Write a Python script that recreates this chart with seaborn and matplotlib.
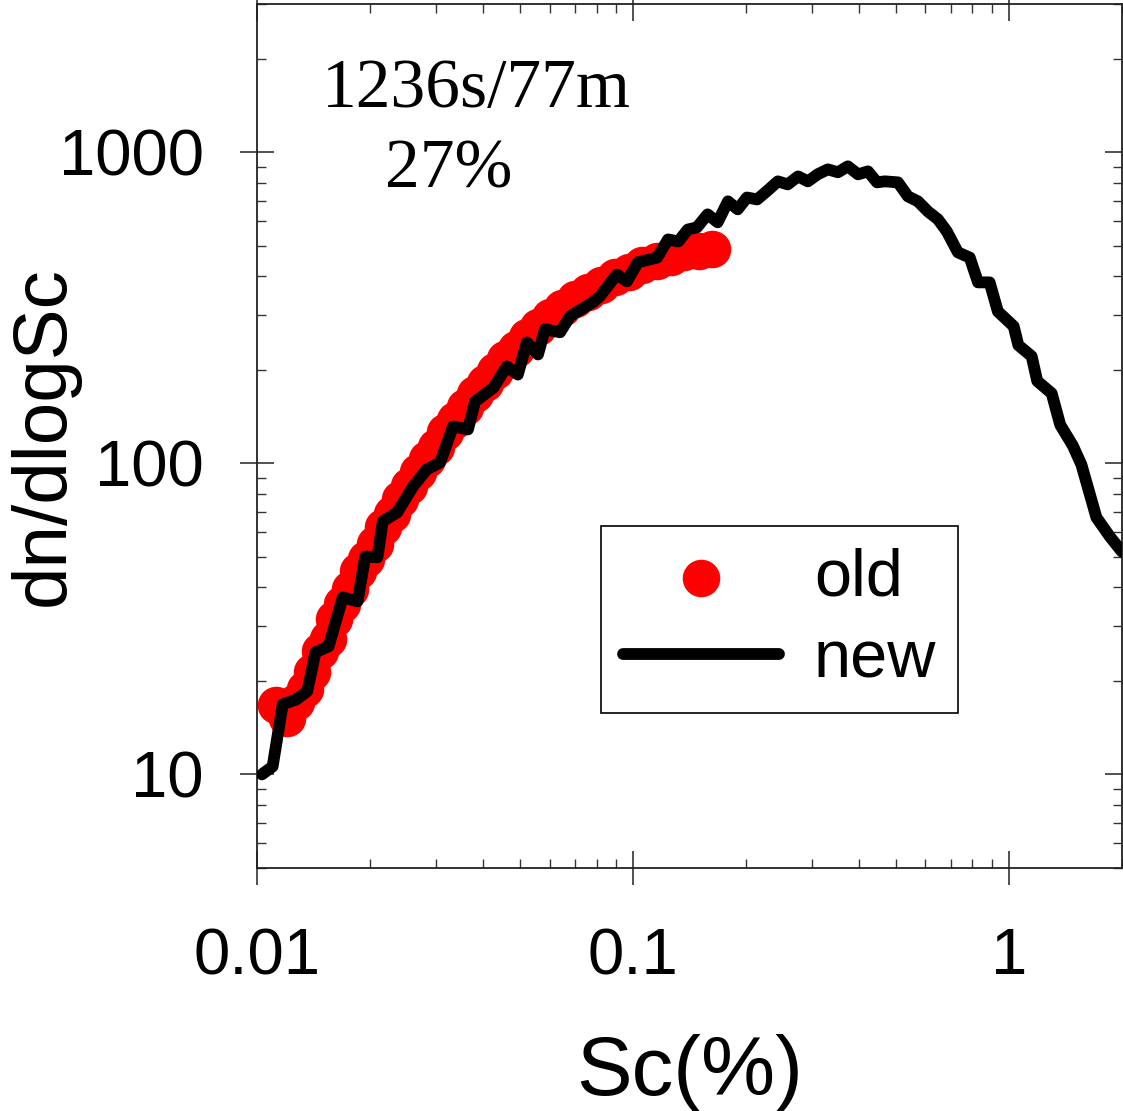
import numpy as np
import pandas as pd
import matplotlib
matplotlib.use("Agg")
import matplotlib.pyplot as plt
import matplotlib.ticker as mticker
import seaborn as sns

# "old" distribution (red dots), Sc in %
old_sc = [0.0112, 0.0120, 0.0127, 0.0134, 0.0140, 0.0147, 0.0154, 0.0160, 0.0168, 0.0177,
          0.0186, 0.0195, 0.0206, 0.0216, 0.0229, 0.0240, 0.0254, 0.0268, 0.0283, 0.0299,
          0.0316, 0.0336, 0.0358, 0.0380, 0.0404, 0.0429, 0.0457, 0.0489, 0.0522, 0.0559,
          0.0601, 0.0647, 0.0701, 0.0759, 0.0822, 0.0895, 0.0975, 0.106, 0.116, 0.126,
          0.137, 0.150, 0.162]
old_dn = [16.7, 15.2, 17.1, 18.8, 21.4, 24.9, 27.2, 31.5, 35.2, 39.4,
          45.0, 49.1, 54.9, 62.3, 68.5, 76.6, 84.3, 93.5, 103, 113,
          126, 138, 152, 167, 182, 198, 216, 234, 254, 274,
          295, 317, 337, 357, 376, 397, 414, 436, 446, 460,
          477, 481, 488]

# "new" distribution (black line)
new_sc = [0.0103, 0.0110, 0.0117, 0.0127, 0.0136, 0.0143, 0.0155, 0.0169, 0.0185, 0.0194,
          0.0209, 0.0216, 0.0236, 0.0260, 0.0283, 0.0307, 0.0332, 0.0364, 0.0380, 0.0425,
          0.0462, 0.0494, 0.0522, 0.0559, 0.0583, 0.0640, 0.0680, 0.0783, 0.0817, 0.0906,
          0.0964, 0.103, 0.116, 0.124, 0.132, 0.140, 0.148, 0.158, 0.168, 0.179,
          0.190, 0.201, 0.214, 0.227, 0.243, 0.258, 0.275, 0.292, 0.310, 0.330,
          0.351, 0.373, 0.397, 0.422, 0.446, 0.468, 0.507, 0.539, 0.573, 0.609,
          0.648, 0.684, 0.732, 0.787, 0.828, 0.889, 0.935, 1.03, 1.06, 1.15,
          1.19, 1.30, 1.37, 1.48, 1.56, 1.71, 1.86, 2.0]
new_dn = [10.0, 10.6, 16.8, 17.4, 18.5, 24.7, 25.8, 37.1, 36.0, 50.2,
          49.9, 65.1, 69.6, 84.3, 95.7, 100.7, 131.5, 128.6, 158, 175,
          205, 193, 245, 224, 270, 264, 297, 330, 345, 405,
          385, 443, 459, 525, 517, 565, 574, 632, 596, 696,
          656, 716, 706, 750, 807, 789, 837, 807, 850, 882,
          863, 902, 850, 869, 801, 807, 801, 722, 696, 646,
          609, 557, 477, 459, 382, 382, 308, 276, 240, 221,
          184, 168, 133, 114, 99, 67, 58, 52]

annot_lines = ["1236s/77m", "27%"]

sns.set_style("ticks")
plt.rcParams["font.family"] = ["Liberation Sans", "DejaVu Sans"]
plt.rcParams["text.color"] = "black"
plt.rcParams["axes.labelcolor"] = "black"
plt.rcParams["xtick.color"] = "black"
plt.rcParams["ytick.color"] = "black"

old_df = pd.DataFrame({"sc": old_sc, "dn": old_dn})
new_df = pd.DataFrame({"sc": new_sc, "dn": new_dn})

fig = plt.figure(figsize=(11.23, 11.11), dpi=100)
ax = fig.add_axes([0.2289, 0.2187, 0.7702, 0.7777])
ax.set_xscale("log")
ax.set_yscale("log")

sns.scatterplot(data=old_df, x="sc", y="dn", ax=ax, color="red", s=730,
                linewidth=0, label="old", zorder=2)
sns.lineplot(data=new_df, x="sc", y="dn", ax=ax, color="black", lw=8.5,
             sort=False, estimator=None, label="new", zorder=3)

ax.set_xlim(0.01, 2)
ax.set_ylim(5, 3000)

ax.xaxis.set_major_locator(mticker.FixedLocator([0.01, 0.1, 1]))
ax.xaxis.set_major_formatter(mticker.FixedFormatter(["0.01", "0.1", "1"]))
ax.yaxis.set_major_locator(mticker.FixedLocator([10, 100, 1000]))
ax.yaxis.set_major_formatter(mticker.FixedFormatter(["10", "100", "1000"]))
ax.xaxis.set_minor_locator(mticker.LogLocator(base=10, subs=np.arange(2, 10), numticks=20))
ax.yaxis.set_minor_locator(mticker.LogLocator(base=10, subs=np.arange(2, 10), numticks=20))
ax.xaxis.set_minor_formatter(mticker.NullFormatter())
ax.yaxis.set_minor_formatter(mticker.NullFormatter())

ax.tick_params(which="major", direction="inout", length=25, width=1.2, color="#333333",
               top=True, right=True, labelsize=47, labelcolor="black")
ax.tick_params(which="minor", direction="in", length=6.5, width=1.0, color="#333333",
               top=True, right=True)
ax.tick_params(axis="x", which="major", pad=30)
ax.tick_params(axis="y", which="major", pad=26)

for sp in ax.spines.values():
    sp.set_linewidth(1.3)
    sp.set_color("#222222")

ax.set_xlabel("Sc(%)", fontsize=60, labelpad=34)
ax.set_ylabel("dn/dlogSc", fontsize=55, va="center")
ax.yaxis.set_label_coords(-0.246, 0.5)

ax.text(0.253, 0.881, annot_lines[0], transform=ax.transAxes, ha="center", va="baseline",
        fontsize=50, family=["Liberation Serif", "DejaVu Serif"])
ax.text(0.222, 0.788, annot_lines[1], transform=ax.transAxes, ha="center", va="baseline",
        fontsize=50, family=["Liberation Serif", "DejaVu Serif"])

leg = ax.legend(loc="upper left", bbox_to_anchor=(0.398, 0.396), borderaxespad=0,
                fontsize=48, frameon=True, fancybox=False, edgecolor="black",
                handlelength=2.35, handletextpad=0.52, labelspacing=0.3,
                borderpad=0.32, markerscale=1.0)
leg.get_frame().set_linewidth(1.2)
leg.get_frame().set_alpha(1)

fig.savefig("out.png", dpi=100)
